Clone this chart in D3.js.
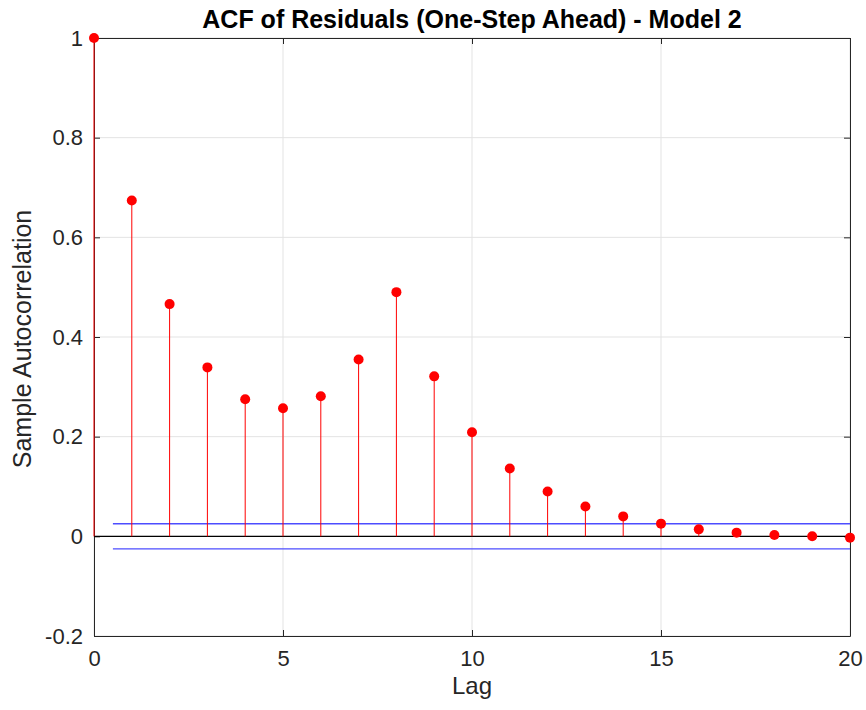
<!DOCTYPE html>
<html><head><meta charset="utf-8">
<script src="https://cdn.jsdelivr.net/npm/d3@7"></script>
<style>body{margin:0;background:#fff;font-family:"Liberation Sans",Arial,sans-serif;}</style>
</head><body>
<svg id="c" width="866" height="710"></svg>
<script>
const lags = d3.range(0, 21);
const acf = [1.0, 0.674, 0.466, 0.339, 0.275, 0.257, 0.281, 0.355, 0.490, 0.321, 0.209,
             0.136, 0.090, 0.060, 0.040, 0.0255, 0.014, 0.0074, 0.0027, 0.0, -0.0026];
const bound = 0.0253;
const xTicks = [0, 5, 10, 15, 20];
const yTicks = [-0.2, 0, 0.2, 0.4, 0.6, 0.8, 1];

const svg = d3.select("#c");
const L = 94, R = 850, T = 38, B = 636;
const x = d3.scaleLinear().domain([0, 20]).range([L, R]);
const y = d3.scaleLinear().domain([-0.2, 1]).range([B, T]);

// grid
svg.append("g").selectAll("line").data(xTicks).join("line")
  .attr("x1", d => x(d)).attr("x2", d => x(d)).attr("y1", T).attr("y2", B)
  .attr("stroke", "#e3e3e3").attr("stroke-width", 1);
svg.append("g").selectAll("line").data(yTicks).join("line")
  .attr("x1", L).attr("x2", R).attr("y1", d => y(d)).attr("y2", d => y(d))
  .attr("stroke", "#e3e3e3").attr("stroke-width", 1);

// axes (inner ticks)
const fmt = d => String(d);
const xa = svg.append("g").attr("transform", `translate(0,${B})`)
  .call(d3.axisBottom(x).tickValues(xTicks).tickSizeInner(-6).tickSizeOuter(0).tickPadding(14).tickFormat(fmt));
const ya = svg.append("g").attr("transform", `translate(${L},0)`)
  .call(d3.axisLeft(y).tickValues(yTicks).tickSizeInner(-6).tickSizeOuter(0).tickPadding(11).tickFormat(fmt));
svg.append("g").attr("transform", `translate(0,${T})`)
  .call(d3.axisTop(x).tickValues(xTicks).tickSizeInner(-6).tickSizeOuter(0).tickFormat(""));
svg.append("g").attr("transform", `translate(${R},0)`)
  .call(d3.axisRight(y).tickValues(yTicks).tickSizeInner(-6).tickSizeOuter(0).tickFormat(""));
svg.selectAll(".domain").attr("stroke", "#262626");
svg.selectAll(".tick line").attr("stroke", "#262626");
[xa, ya].forEach(a => a.selectAll("text").attr("font-size", 22).attr("fill", "#262626")
  .attr("font-family", "Liberation Sans, Arial, sans-serif"));

// zero line
svg.append("line").attr("x1", L).attr("x2", R).attr("y1", y(0)).attr("y2", y(0))
  .attr("stroke", "#000").attr("stroke-width", 1.2);

// confidence bounds
[bound, -bound].forEach(b => svg.append("line")
  .attr("x1", x(0.5)).attr("x2", R).attr("y1", y(b)).attr("y2", y(b))
  .attr("stroke", "#4d4dff").attr("stroke-width", 1.3));

// stems
const data = lags.map((l, i) => ({l, v: acf[i]}));
svg.append("g").selectAll("line").data(data).join("line")
  .attr("x1", d => x(d.l)).attr("x2", d => x(d.l))
  .attr("y1", y(0)).attr("y2", d => y(d.v))
  .attr("stroke", "#ff0000").attr("stroke-width", 1);
svg.append("g").selectAll("circle").data(data).join("circle")
  .attr("cx", d => x(d.l)).attr("cy", d => y(d.v)).attr("r", 5)
  .attr("fill", "#ff0000");

// labels
svg.append("text").attr("x", (L + R) / 2).attr("y", 28).attr("text-anchor", "middle")
  .attr("font-size", 25).attr("font-weight", "bold").attr("fill", "#000")
  .text("ACF of Residuals (One-Step Ahead) - Model 2");
svg.append("text").attr("x", (L + R) / 2).attr("y", 694).attr("text-anchor", "middle")
  .attr("font-size", 24).attr("fill", "#262626").text("Lag");
svg.append("text").attr("transform", `translate(31,${(T + B) / 2 + 2}) rotate(-90)`)
  .attr("text-anchor", "middle").attr("font-size", 25).attr("fill", "#262626")
  .text("Sample Autocorrelation");
</script>
</body></html>
